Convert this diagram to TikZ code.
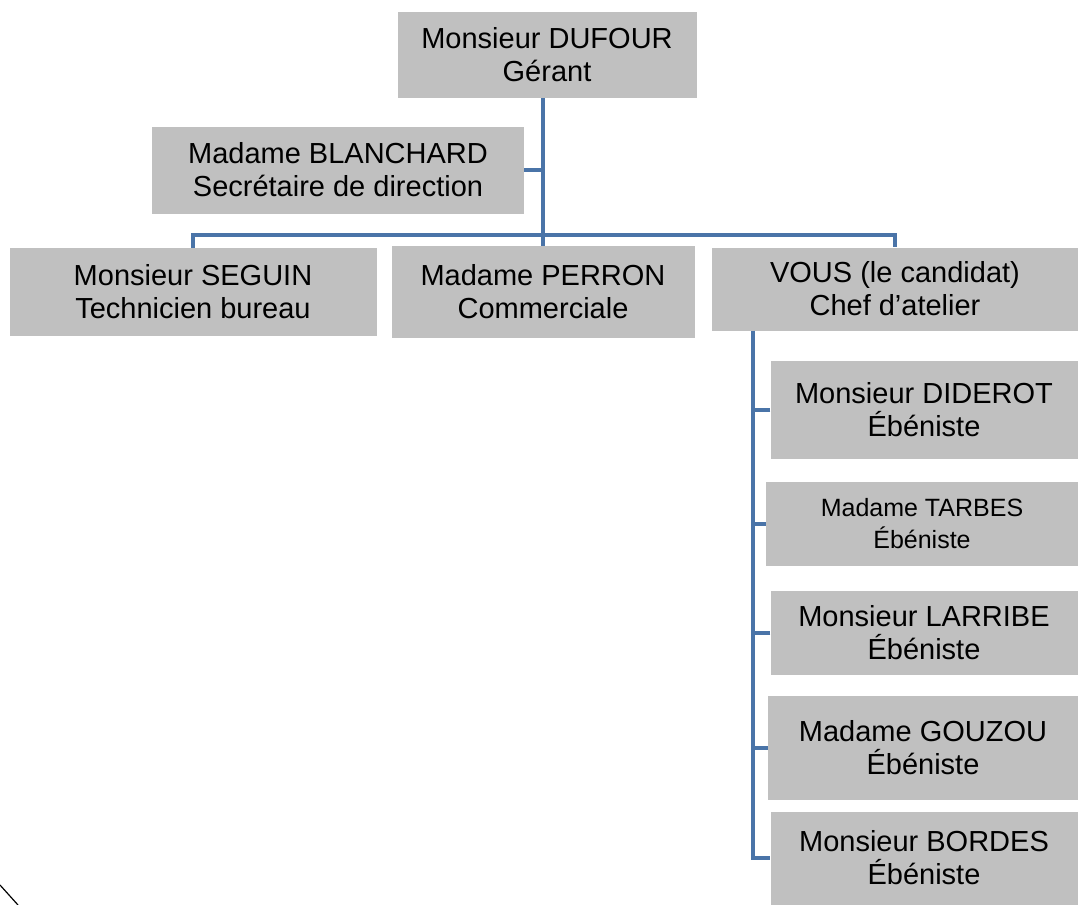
\documentclass[tikz,border=0pt]{standalone}
\usepackage{fontspec}
\setmainfont{Liberation Sans}
\usepackage{xcolor}
\definecolor{boxgray}{RGB}{192,192,192}
\definecolor{linkblue}{RGB}{74,116,168}

\begin{document}
\begin{tikzpicture}[x=1pt,y=-1pt,
    box/.style={fill=boxgray,inner sep=0pt,align=center,
                font=\fontsize{29}{33}\selectfont},
    link/.style={draw=linkblue,line width=4.5pt}]
\useasboundingbox (0,0) rectangle (1080,905);

\begin{scope}[every node/.style={box}]
    \node[minimum width=299pt,minimum height=86pt] (dufour) at (547,55) {Monsieur DUFOUR\\G\'erant};
    \node[minimum width=372pt,minimum height=87pt] (blanchard) at (338,170) {Madame BLANCHARD\\Secr\'etaire de direction};
    \node[minimum width=367pt,minimum height=88pt] (seguin) at (193,292) {Monsieur SEGUIN\\Technicien bureau};
    \node[minimum width=303pt,minimum height=92pt] (perron) at (543,292) {Madame PERRON\\Commerciale};
    \node[minimum width=366pt,minimum height=83pt] (vous) at (895,289) {VOUS (le candidat)\\Chef d'atelier};
    \node[minimum width=307pt,minimum height=98pt] (diderot) at (924,410) {Monsieur DIDEROT\\\'Eb\'eniste};
    \node[minimum width=312pt,minimum height=84pt,font=\fontsize{25}{32}\selectfont] (tarbes) at (922,524) {Madame TARBES\\\'Eb\'eniste};
    \node[minimum width=307pt,minimum height=84pt] (larribe) at (924,633) {Monsieur LARRIBE\\\'Eb\'eniste};
    \node[minimum width=310pt,minimum height=104pt] (gouzou) at (923,748) {Madame GOUZOU\\\'Eb\'eniste};
    \node[minimum width=307pt,minimum height=93pt] (bordes) at (924,858) {Monsieur BORDES\\\'Eb\'eniste};
\end{scope}

\coordinate (bar) at (543,235);
\coordinate (spine) at (753,0);

\begin{scope}[every path/.style={link}]
    \path (dufour.south -| bar) -- (perron.north);
    \path (blanchard.east) -- (blanchard.east -| bar);
    \path (seguin.north) |- (bar) -| (vous.north);
    \path (vous.south -| spine) |- (bordes.west);
    \foreach \who in {diderot,tarbes,larribe,gouzou}
        \path (\who.west) -- (\who.west -| spine);
\end{scope}

\draw[line width=1.2pt] (0,885) -- (18,905);
\end{tikzpicture}
\end{document}
